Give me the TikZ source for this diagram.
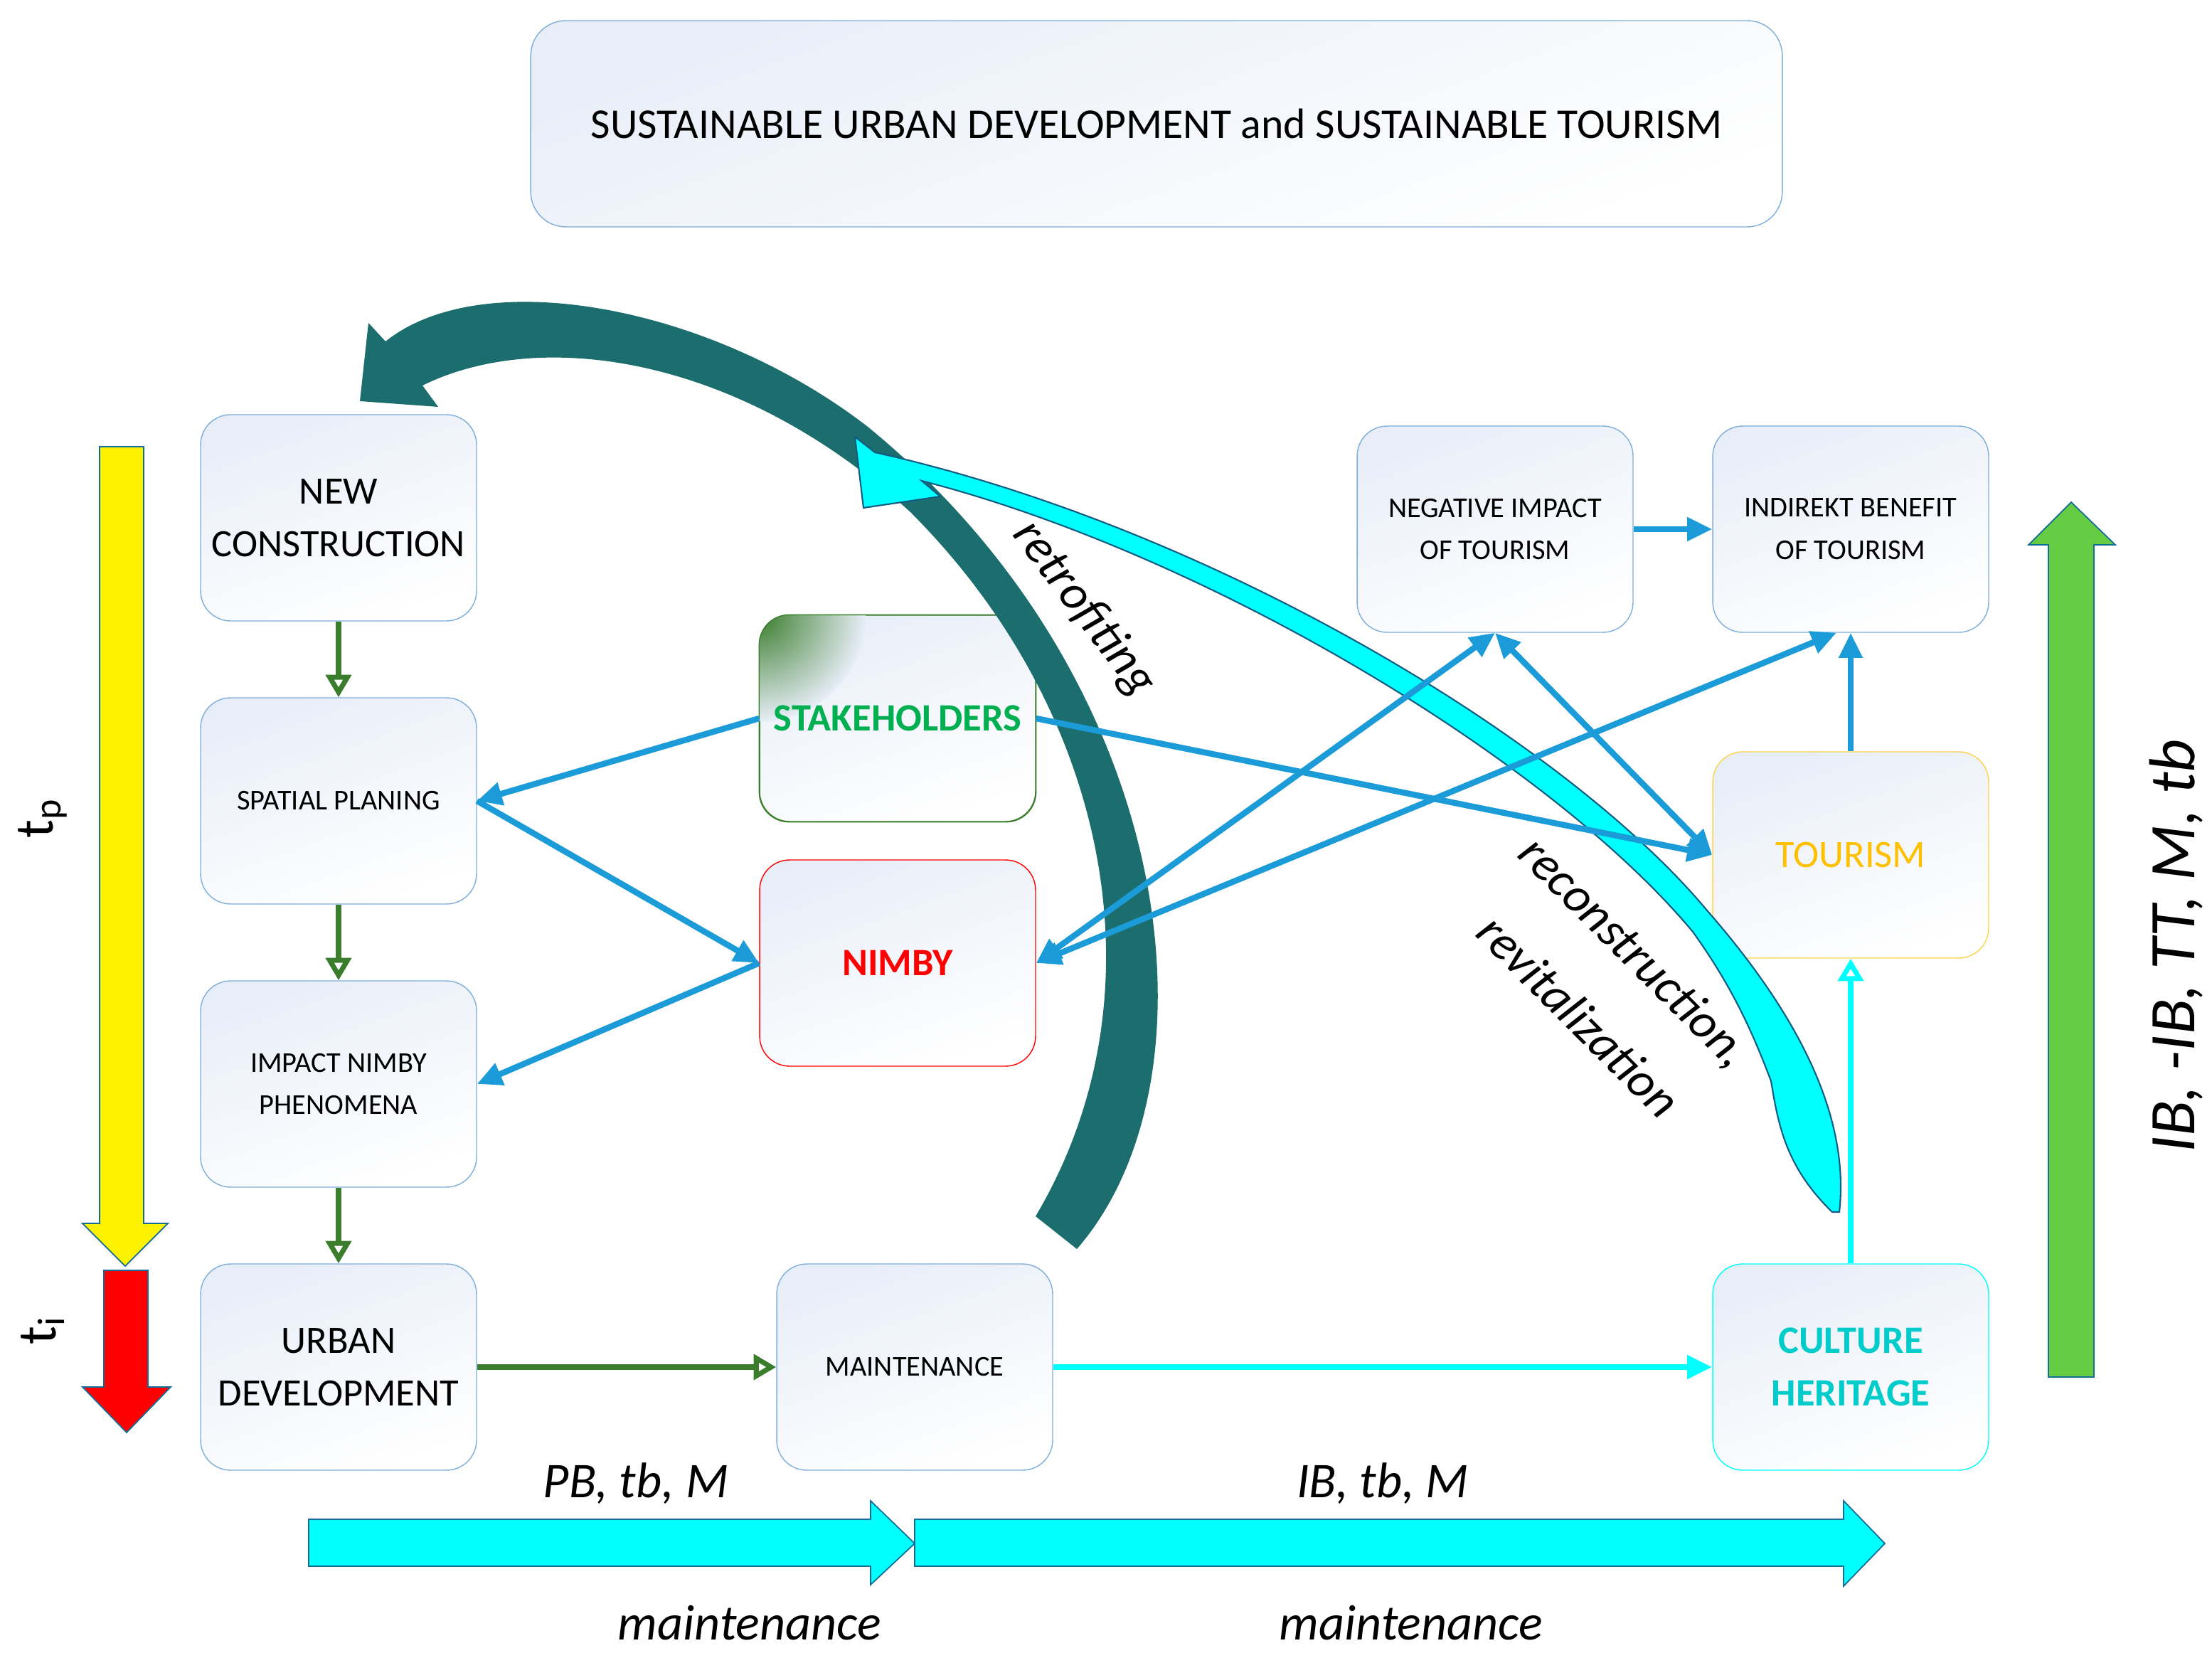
\documentclass[tikz,border=0pt]{standalone}
\usepackage{fontspec}
\setmainfont{Carlito}
\usetikzlibrary{arrows.meta,calc}
\definecolor{bxline}{HTML}{7FAEDB}
\definecolor{bxfill}{HTML}{E8EEF8}
\definecolor{flow}{HTML}{1B9BD7}
\definecolor{grn}{HTML}{3A7D2C}
\definecolor{teal1}{HTML}{037C7C}
\definecolor{cyn}{HTML}{00FFFF}
\definecolor{stk}{HTML}{00B050}
\definecolor{orng}{HTML}{FFC000}
\definecolor{sidegreen}{HTML}{66CC44}
\tikzset{
  box/.style={draw=bxline,rounded corners=12pt,minimum width=3.88cm,minimum height=2.9cm,
    align=center,top color=bxfill,bottom color=white,shading angle=20,font=\fontsize{15.5}{21}\selectfont},
  sbox/.style={box,font=\fontsize{11.5}{17}\selectfont},
  blue/.style={flow,line width=2.4pt,-{Triangle[length=10pt,width=9pt]}},
  blue2/.style={blue,{Triangle[length=10pt,width=9pt]}-{Triangle[length=10pt,width=9pt]}},
  green/.style={grn,line width=2.4pt,-{Triangle[open,length=9pt,width=10pt,line width=2pt]}},
  fat/.style={draw=flow!70!black,line width=0.5pt},
  lab/.style={font=\fontsize{20}{24}\selectfont\itshape},
}
\begin{document}
\begin{tikzpicture}[x=0.02cm,y=-0.02cm]
\useasboundingbox (0,0) rectangle (1555,1162);

% title
\node[box,minimum width=17.6cm,minimum height=2.9cm,rounded corners=14pt,font=\fontsize{17}{21}\selectfont] (title) at (813,87)
  {SUSTAINABLE URBAN DEVELOPMENT and SUSTAINABLE TOURISM};

% boxes
\node[box] (newc) at (238,364) {NEW\\CONSTRUCTION};
\node[sbox] (spat) at (238,563) {SPATIAL PLANING};
\node[sbox] (imp) at (238,762) {IMPACT NIMBY\\PHENOMENA};
\node[box] (urb) at (238,961) {URBAN\\DEVELOPMENT};
\node[box,draw=grn] (stk) at (631,505) {};
\begin{scope}
  \clip[rounded corners=12pt] (stk.south west) rectangle (stk.north east);
  \shade[inner color=grn,outer color=bxfill] (stk.north west) circle (75);
\end{scope}
\draw[grn,rounded corners=12pt] (stk.south west) rectangle (stk.north east);
\node[font=\fontsize{15.5}{21}\selectfont\bfseries,text=stk] at (stk) {STAKEHOLDERS};
\node[box,draw=red,font=\fontsize{15.5}{21}\selectfont\bfseries,text=red] (nim) at (631,677) {NIMBY};
\node[sbox] (mnt) at (643,961) {MAINTENANCE};
\node[sbox] (neg) at (1051,372) {NEGATIVE IMPACT\\OF TOURISM};
\node[sbox] (ind) at (1301,372) {INDIREKT BENEFIT\\OF TOURISM};
\node[box,draw=orng!70,text=orng] (tour) at (1301,601) {TOURISM};
\node[box,draw=cyn,text=cyn!80!black,font=\fontsize{15.5}{21}\selectfont\bfseries] (cult) at (1301,961) {CULTURE\\HERITAGE};

% big curved arrows
\fill[teal1!75!black!90] (757,878) .. controls (860,760) and (830,480) .. (610,300)
  .. controls (500,215) and (340,185) .. (271,240)
  -- (259,227) -- (253,282) -- (308,286) -- (297,271)
  .. controls (380,230) and (520,250) .. (640,360)
  .. controls (780,500) and (820,700) .. (728,855) -- cycle;
\filldraw[fill=cyn,draw=flow!60!black,line width=0.6pt] (1293,852)
  .. controls (1300,790) and (1270,720) .. (1200,640)
  .. controls (1100,520) and (850,370) .. (615,318)
  -- (601,307) -- (607,357) -- (661,349) -- (648,338)
  .. controls (850,390) and (1090,535) .. (1190,655)
  .. controls (1215,690) and (1230,720) .. (1245,760)
  .. controls (1250,790) and (1255,820) .. (1288,852) -- cycle;

% connectors
\draw[green] (newc) -- (spat);
\draw[green] (spat) -- (imp);
\draw[green] (imp) -- (urb);
\draw[green] (urb) -- (mnt);
\draw[cyn,line width=2.4pt,-{Triangle[length=10pt,width=9pt]}] (mnt) -- (cult);
\draw[cyn,line width=2.4pt,-{Triangle[open,length=9pt,width=10pt,line width=2pt]}] (cult) -- (tour);
\draw[blue] (tour) -- (ind);
\draw[blue] (neg) -- (ind);
\draw[blue] (stk.west) -- (spat.east);
\draw[blue] (spat.east) -- (nim.west);
\draw[blue] (nim.west) -- (imp.east);
\draw[blue] (stk.east) -- (tour.west);
\draw[blue2] (nim.east) -- (neg.south);
\draw[blue2] (nim.east) -- ($(ind.south)+(-10,0)$);
\draw[blue2] (neg.south) -- (tour.west);

% side arrows
\filldraw[fill=yellow,fat] (70,314) -- (101,314) -- (101,860) -- (118,860) -- (88,890) -- (58,860) -- (70,860) -- cycle;
\filldraw[fill=red,fat] (73,893) -- (104,893) -- (104,975) -- (120,975) -- (89,1007) -- (58,975) -- (73,975) -- cycle;
\filldraw[fill=sidegreen,fat] (1440,968) -- (1472,968) -- (1472,383) -- (1487,383) -- (1456,353) -- (1426,383) -- (1440,383) -- cycle;
\filldraw[fill=cyn,fat] (217,1068) -- (612,1068) -- (612,1055) -- (643,1085) -- (612,1114) -- (612,1101) -- (217,1101) -- cycle;
\filldraw[fill=cyn,fat] (643,1068) -- (1296,1068) -- (1296,1055) -- (1325,1085) -- (1296,1115) -- (1296,1101) -- (643,1101) -- cycle;

% labels
\node[rotate=90,font=\fontsize{22}{24}\selectfont] (tp) at (30,575) {t\textsubscript{p}};
\node[rotate=90,font=\fontsize{22}{24}\selectfont] (ti) at (30,935) {t\textsubscript{i}};
\node[rotate=90,font=\fontsize{26}{30}\selectfont\itshape] (side) at (1530,665) {IB, -IB, TT, M, tb};
\node[lab] (l1) at (447,1043) {PB, tb, M};
\node[lab] (l2) at (972,1043) {IB, tb, M};
\node[lab] (l3) at (527,1141) {maintenance};
\node[lab] (l4) at (992,1141) {maintenance};
\node[lab,rotate=-53] (retro) at (762,428) {retrofiting};
\node[lab,rotate=-45,inner sep=0pt] (recon) at (1148,670) {reconstruction,};
\node[lab,rotate=-45,inner sep=0pt] (revit) at (1110,714) {revitalization};
\end{tikzpicture}
\end{document}
